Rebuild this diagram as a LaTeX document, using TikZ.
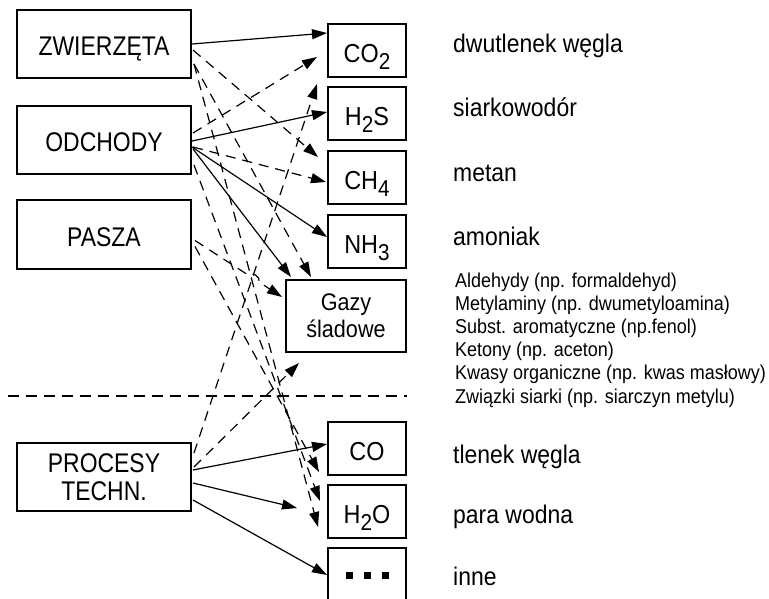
\documentclass[tikz,border=0pt]{standalone}
\usepackage{fontspec}
\setmainfont{Liberation Sans}[FakeStretch=0.9]
\newfontfamily\srcfont{Liberation Sans}[FakeStretch=0.85]
\usetikzlibrary{arrows.meta,calc}
\newcommand\gs[1]{\raisebox{-0.27em}{\fontsize{23pt}{23pt}\selectfont #1}}
\begin{document}
\begin{tikzpicture}[x=1pt,y=-1pt,
  src/.style={draw,line width=2pt,minimum width=174pt,minimum height=68pt,inner sep=0pt,
    font=\srcfont\fontsize{27pt}{28pt}\selectfont,align=center},
  oneline/.style={text height=24pt,text depth=0pt},
  gas/.style={draw,line width=2pt,minimum width=78pt,minimum height=53pt,inner sep=0pt,
    font=\fontsize{26pt}{27pt}\selectfont,align=center},
  lbl/.style={anchor=base west,inner sep=0pt,font=\fontsize{25.5pt}{28pt}\selectfont},
  lst/.style={anchor=base west,inner sep=0pt,font=\fontsize{20pt}{23pt}\selectfont},
  sol/.style={line width=1.2pt,-{Triangle[length=15pt,width=10pt]}},
  dsh/.style={sol,dash pattern=on 10pt off 7pt},
  sep/.style={line width=1.3pt,dash pattern=on 11pt off 7pt},
]
\useasboundingbox (0,0) rectangle (769,599);
% sources
\node[src,oneline] (zw) at (104,44) {ZWIERZĘTA};
\node[src,oneline] (od) at (104,140) {ODCHODY};
\node[src,oneline] (pa) at (104,234.5) {PASZA};
\node[src] (pr) at (104,477) {PROCESY\\TECHN.};
% gases
\node[gas,oneline] (co2) at (367,50.5) {CO\gs{2}};
\node[gas,oneline] (h2s) at (367,113.5) {H\gs{2}S};
\node[gas,oneline] (ch4) at (367,177.5) {CH\gs{4}};
\node[gas,oneline] (nh3) at (367,241.5) {NH\gs{3}};
\node[gas,minimum width=120pt,minimum height=72pt,font=\fontsize{24pt}{27pt}\selectfont] (gz) at (346,316) {Gazy\\śladowe};
\node[gas,oneline] (co) at (367,448) {CO};
\node[gas,oneline] (h2o) at (367,511.5) {H\gs{2}O};
\node[gas,minimum height=54pt] (oth) at (367,575) {\rule{7pt}{7pt}\hspace{11pt}\rule{7pt}{7pt}\hspace{11pt}\rule{7pt}{7pt}};
% labels
\node[lbl] (l1) at (453,53) {dwutlenek węgla};
\node[lbl] (l2) at (453,117) {siarkowodór};
\node[lbl] (l3) at (453,182) {metan};
\node[lbl] (l4) at (453,245) {amoniak};
\node[lst] (g1) at (455,287) {Aldehydy (np. formaldehyd)};
\node[lst] (g2) at (455,310.2) {Metylaminy (np. dwumetyloamina)};
\node[lst] (g3) at (455,333.4) {Subst. aromatyczne (np.fenol)};
\node[lst] (g4) at (455,356.6) {Ketony (np. aceton)};
\node[lst] (g5) at (455,379.8) {Kwasy organiczne (np. kwas masłowy)};
\node[lst] (g6) at (455,403) {Związki siarki (np. siarczyn metylu)};
\node[lbl] (l5) at (453,463) {tlenek węgla};
\node[lbl] (l6) at (453,523) {para wodna};
\node[lbl] (l7) at (453,585) {inne};
% separator
\draw[sep] (8,396) -- (407,396);
% solid connectors
\draw[sol] (zw.east) -- ($(co2.west)+(0,-17.5)$);
\draw[sol] ($(od.east)+(0,1)$) -- ($(h2s.west)+(0,-1.5)$);
\draw[sol] ($(od.east)+(0,7)$) -- ($(nh3.west)+(0,-4.5)$);
\draw[sol] ($(od.east)+(1,9)$) -- ($(gz.north west)+(6,-2)$);
\draw[sol] ($(pr.east)+(1,-7)$) -- ($(co.west)+(0,-4)$);
\draw[sol] ($(pr.east)+(1,6)$) -- ($(h2o.west)+(-30,-3.5)$);
\draw[sol] ($(pr.east)+(1,23)$) -- (oth.west);
% dashed connectors
\draw[dsh] ($(zw.east)+(1,6)$) -- ($(ch4.north west)+(-9,7)$);
\draw[dsh] ($(zw.east)+(2,20)$) -- ($(gz.north west)+(26,-2)$);
\draw[dsh] ($(zw.east)+(2,20)$) -- ($(h2o.west)+(-9,15.5)$);
\draw[dsh] ($(od.east)+(1,-7)$) -- ($(co2.south west)+(-10,-21)$);
\draw[dsh] ($(od.east)+(1,7)$) -- ($(ch4.west)+(-1,4.5)$);
\draw[dsh] ($(od.east)+(2,25)$) -- ($(h2o.west)+(-7,-10.5)$);
\coordinate (paS) at ($(pa.east)+(3,6)$);
\coordinate (gzL) at ($(gz.west)+(-3,-19)$);
\coordinate (hopA) at ($(paS)!0.6!(gzL)$);
\coordinate (hopB) at ($(paS)!0.74!(gzL)$);
\draw[dsh] (paS) -- (hopA) to[bend left=70] (hopB) -- (gzL);
\draw[dsh] ($(pa.east)+(3,12)$) -- ($(h2o.north west)+(-8,-12)$);
\draw[dsh] ($(pr.east)+(2,-24)$) -- ($(co2.south west)+(-10,6)$);
\draw[dsh] ($(pr.east)+(2,-10)$) -- ($(gz.south west)+(14,10)$);
\end{tikzpicture}
\end{document}
